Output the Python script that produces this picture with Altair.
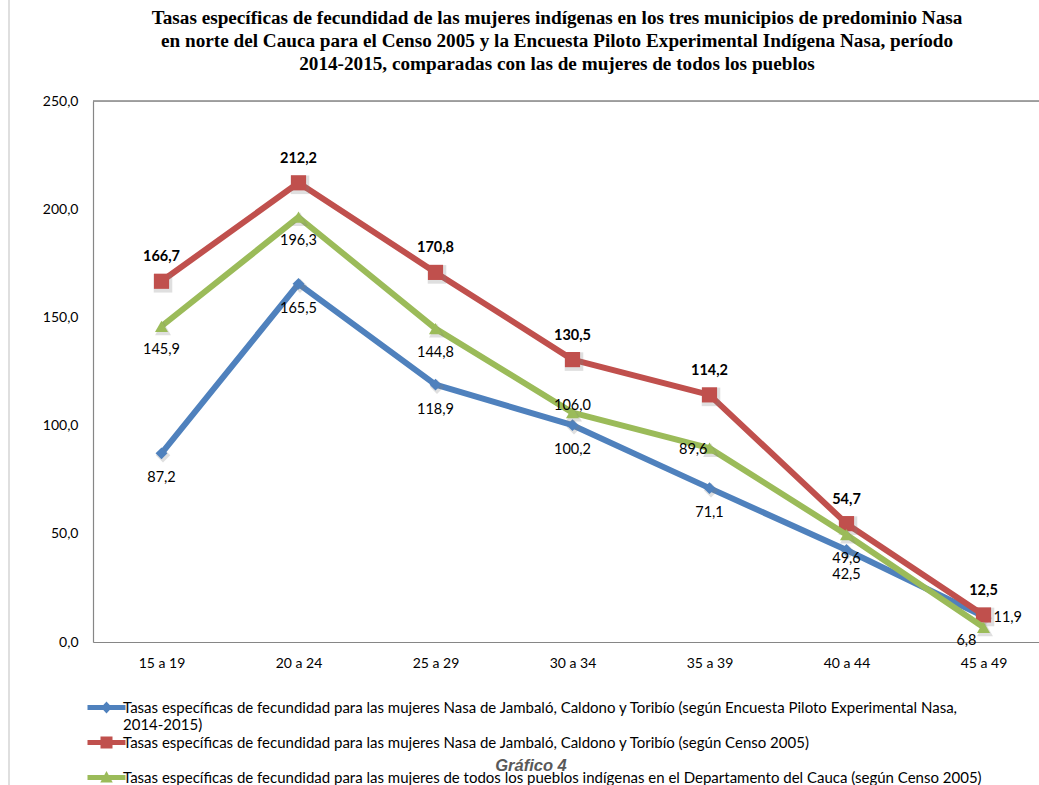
import json
import altair as alt
import pandas as pd

categories = ["15 a 19", "20 a 24", "25 a 29", "30 a 34", "35 a 39", "40 a 44", "45 a 49"]
series_names = [
    "Tasas específicas de fecundidad para las mujeres Nasa de Jambaló, Caldono y Toribío (según Encuesta Piloto Experimental Nasa, 2014-2015)",
    "Tasas específicas de fecundidad para las mujeres Nasa de Jambaló, Caldono y Toribío (según Censo 2005)",
    "Tasas específicas de fecundidad para las mujeres de todos los pueblos indígenas en el Departamento del Cauca (según Censo 2005)",
]
encuesta_nasa = [87.2, 165.5, 118.9, 100.2, 71.1, 42.5, 11.9]
censo_nasa = [166.7, 212.2, 170.8, 130.5, 114.2, 54.7, 12.5]
censo_todos = [145.9, 196.3, 144.8, 106.0, 89.6, 49.6, 6.8]
y_ticks = [0, 50, 100, 150, 200, 250]
title_lines = [
    "Tasas específicas de fecundidad de las mujeres indígenas en los tres municipios de predominio Nasa",
    "en norte del Cauca para el Censo 2005 y la Encuesta Piloto Experimental Indígena Nasa, período",
    "2014-2015, comparadas con las de mujeres de todos los pueblos",
]
caption = "Gráfico 4"

# ---- style ----
colors = ["#4F81BD", "#C0504D", "#9BBB59"]
shapes = ["diamond", "square", "triangle-up"]
marker_sizes = [140, 230, 170]
FONT = "Lato"
W, H = 946, 541
PAD_L, PAD_T, PAD_B = 93, 101, 143

rows = []
for name, vals in zip(series_names, [encuesta_nasa, censo_nasa, censo_todos]):
    for i, (c, v) in enumerate(zip(categories, vals)):
        rows.append({"series": name, "category": c, "idx": i, "value": v})
df = pd.DataFrame(rows)

n = len(categories)
x_enc = alt.X(
    "idx:Q",
    scale=alt.Scale(domain=[-0.5, -0.5 + W / 137.0], nice=False, zero=False),
    axis=alt.Axis(
        values=list(range(n)),
        labelExpr=f"{json.dumps(categories)}[datum.value]",
        ticks=False, grid=False, title=None,
        domainColor="#868686", domainWidth=1.2,
        labelFont=FONT, labelFontSize=14, labelColor="#000000", labelPadding=14,
    ),
)
y_enc = alt.Y(
    "value:Q",
    scale=alt.Scale(domain=[0, 250], nice=False),
    axis=alt.Axis(
        values=y_ticks,
        labelExpr="replace(format(datum.value, '.1f'), '.', ',')",
        ticks=False, grid=False, title=None,
        domainColor="#868686", domainWidth=1.2,
        labelFont=FONT, labelFontSize=14, labelColor="#000000", labelPadding=15,
    ),
)

base = alt.Chart(df).encode(x=x_enc, y=y_enc)

layers = []
for k, name in enumerate(series_names):
    sub = base.transform_filter(alt.datum.series == name)
    layers.append(
        sub.mark_line(color=colors[k], strokeWidth=6, strokeJoin="round")
    )
    layers.append(
        sub.mark_point(filled=True, color="#808080", opacity=0.25, shape=shapes[k],
                       size=marker_sizes[k] * 1.5, xOffset=1.5, yOffset=2)
    )
    layers.append(
        sub.mark_point(filled=True, color=colors[k], opacity=1, shape=shapes[k],
                       size=marker_sizes[k])
    )

# ---- data labels ----
lab = base.transform_calculate(
    label="replace(format(datum.value, '.1f'), '.', ',')"
)
text_style = dict(font=FONT, fontSize=14.5, color="#000000")
special = {
    (0, "45 a 49"): dict(align="left", dx=10, dy=2),
    (2, "30 a 34"): dict(align="center", dx=0, dy=-7),
    (2, "35 a 39"): dict(align="right", dx=-2, dy=2),
    (2, "45 a 49"): dict(align="right", dx=-7, dy=14),
}
default_place = {
    0: dict(align="center", dy=25),
    1: dict(align="center", dy=-24, fontWeight="bold"),
    2: dict(align="center", dy=24),
}
for k, name in enumerate(series_names):
    sp_cats = [c for (s, c) in special if s == k]
    filt = f"datum.series == {json.dumps(name)} && indexof({json.dumps(sp_cats)}, datum.category) < 0"
    layers.append(
        lab.transform_filter(filt).mark_text(**text_style, **default_place[k]).encode(text="label:N")
    )
    for (s, c), props in special.items():
        if s != k:
            continue
        extra = {kk: vv for kk, vv in default_place[k].items() if kk == "fontWeight"}
        layers.append(
            lab.transform_filter(
                f"datum.series == {json.dumps(name)} && datum.category == {json.dumps(c)}"
            ).mark_text(**text_style, **extra, **props).encode(text="label:N")
        )

# ---- frame decorations, title, caption ----
one = pd.DataFrame({"a": [0]})
layers.append(
    alt.Chart(one).mark_rule(color="#868686", strokeWidth=1.5).encode(
        x=alt.value(0), x2=alt.value(W), y=alt.value(0)
    )
)
layers.append(
    alt.Chart(one).mark_rule(color="#BFBFBF", strokeWidth=1).encode(
        x=alt.value(9 - PAD_L), y=alt.value(-PAD_T), y2=alt.value(H + PAD_B)
    )
)
layers.append(
    alt.Chart(one).mark_text(
        text=title_lines, font="Liberation Serif", fontSize=19.2, fontWeight="bold",
        color="#000000", lineHeight=23, align="center", baseline="top",
    ).encode(x=alt.value(557 - PAD_L), y=alt.value(9 - PAD_T))
)
layers.append(
    alt.Chart(one).mark_text(
        text=caption, font="Liberation Sans", fontSize=16.5, fontStyle="italic",
        fontWeight="bold", color="#595959", align="center", baseline="middle",
    ).encode(x=alt.value(531 - PAD_L), y=alt.value(766 - PAD_T))
)

# ---- legend (custom symbols: line + marker) ----
# nominal symbol size 10px (unit = 5px); the path extends beyond the unit box to form a 38px segment
seg = "M-3.8,-0.5L3.8,-0.5L3.8,0.5L-3.8,0.5Z"
legend_paths = [
    seg + "M0,-1.2L1.1,0L0,1.2L-1.1,0Z",
    seg + "M-1.2,-1.2L1.2,-1.2L1.2,1.2L-1.2,1.2Z",
    seg + "M0,-1.3L1.25,1.0L-1.25,1.0Z",
]
first_split = series_names[0].split("Nasa, ")
label_map = {
    series_names[0]: [first_split[0] + "Nasa,", first_split[1]],
    series_names[1]: [series_names[1], " "],
}
label_expr = (
    f"datum.label == {json.dumps(series_names[0])} ? {json.dumps(label_map[series_names[0]])} : "
    f"datum.label == {json.dumps(series_names[1])} ? {json.dumps(label_map[series_names[1]])} : datum.label"
)
leg = alt.Legend(
    title=None, orient="none", legendX=6, legendY=599,
    labelExpr=label_expr, labelFont=FONT, labelFontSize=15, labelColor="#000000",
    labelLimit=0, symbolSize=100, symbolStrokeWidth=0, labelOffset=9,
    rowPadding=2, labelBaseline="middle", symbolOpacity=1,
)
layers.append(
    alt.Chart(df).transform_filter("false").mark_point(filled=True, size=100, opacity=1).encode(
        color=alt.Color("series:N", scale=alt.Scale(domain=series_names, range=colors), legend=leg),
        shape=alt.Shape("series:N", scale=alt.Scale(domain=series_names, range=legend_paths), legend=leg),
    )
)

chart = (
    alt.layer(*layers)
    .resolve_scale(color="independent", shape="independent")
    .properties(
        width=W, height=H,
        autosize=alt.AutoSizeParams(type="none"),
        padding={"left": PAD_L, "top": PAD_T, "right": 0, "bottom": PAD_B},
    )
    .configure_view(stroke=None)
    .configure(background="#ffffff")
)

chart.save("out.html", embed_options={"renderer": "svg", "actions": False})
